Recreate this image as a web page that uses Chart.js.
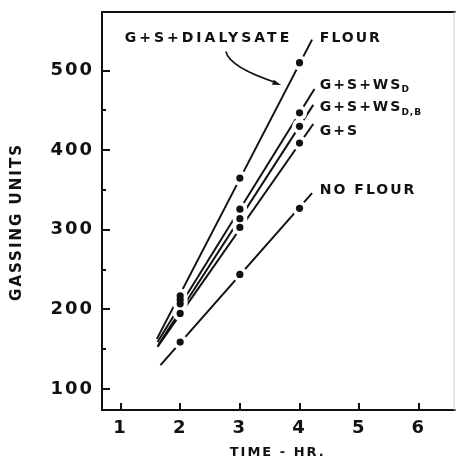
<!DOCTYPE html>
<html>
<head>
<meta charset="utf-8">
<script src="https://cdn.jsdelivr.net/npm/chart.js@4"></script>
<style>
  html, body { margin: 0; padding: 0; background: #fff; }
  canvas { display: block; }
</style>
</head>
<body>
<canvas id="gasChart" width="461" height="460"></canvas>
<script>
    const timeHr = [2, 3, 4];
    const dialysateFlour = [217, 365, 510];
    const wsD = [212, 326, 447];
    const wsDB = [207, 314, 430];
    const gPlusS = [195, 303, 409];
    const noFlour = [159, 244, 327];

    // fitted straight lines, start and end
    const fitStartX = [1.61, 1.62, 1.63, 1.62, 1.67];
    const fitStartY = [163, 159, 155, 153, 130];
    const fitEndX = [4.21, 4.25, 4.23, 4.23, 4.21];
    const fitEndY = [539, 477, 457, 433, 346];

    const xTicks = [1, 2, 3, 4, 5, 6];
    const yTicks = [100, 200, 300, 400, 500];
    const yMinorTicks = [150, 250, 350, 450];

    const labelTexts = ['G+S+DIALYSATE', 'FLOUR', 'G+S+WS', 'G+S+WS', 'G+S', 'NO FLOUR'];
    const labelSubs = ['', '', 'D', 'D,B', '', ''];
    const labelX = [1.07, 4.34, 4.34, 4.34, 4.34, 4.34];
    const labelY = [540, 540, 482, 454, 423.5, 349];

    const INK = '#111';
    const FONT = '"DejaVu Sans", sans-serif';
    const allSeries = [dialysateFlour, wsD, wsDB, gPlusS, noFlour];

    function buildDatasets() {
      const sets = [];
      allSeries.forEach((s, i) => {
        sets.push({
          data: [{ x: fitStartX[i], y: fitStartY[i] }, { x: fitEndX[i], y: fitEndY[i] }],
          showLine: true,
          borderColor: INK,
          borderWidth: 2,
          pointRadius: 0,
          order: 2
        });
        const pts = timeHr.map((x, j) => ({ x: x, y: s[j] }));
        sets.push({
          data: pts,
          pointRadius: 7.5,
          pointBackgroundColor: '#fff',
          pointBorderWidth: 0,
          order: 1
        });
        sets.push({
          data: pts,
          pointRadius: 3.6,
          pointBackgroundColor: INK,
          pointBorderWidth: 0,
          order: 0
        });
      });
      return sets;
    }

    const spacing = {
      id: 'spacing',
      beforeUpdate(chart) { chart.ctx.letterSpacing = '2px'; },
      beforeDraw(chart) { chart.ctx.letterSpacing = '2px'; }
    };

    const decorations = {
      id: 'decorations',
      afterDraw(chart) {
        const ctx = chart.ctx;
        const a = chart.chartArea;
        const xs = chart.scales.x;
        const ys = chart.scales.y;
        ctx.save();
        ctx.strokeStyle = INK;
        ctx.lineWidth = 2;
        ctx.beginPath();
        ctx.moveTo(a.right + 2, a.top);
        ctx.lineTo(a.left, a.top);
        ctx.lineTo(a.left, a.bottom);
        ctx.lineTo(a.right + 2, a.bottom);
        ctx.stroke();
        ctx.strokeStyle = '#ccc';
        ctx.lineWidth = 1;
        ctx.beginPath();
        ctx.moveTo(a.right + 0.5, a.top);
        ctx.lineTo(a.right + 0.5, a.bottom);
        ctx.stroke();

        // inward tick marks
        ctx.strokeStyle = INK;
        ctx.lineWidth = 2;
        ctx.beginPath();
        yTicks.forEach(v => {
          const py = Math.round(ys.getPixelForValue(v));
          ctx.moveTo(a.left, py);
          ctx.lineTo(a.left + 8, py);
        });
        yMinorTicks.forEach(v => {
          const py = Math.round(ys.getPixelForValue(v));
          ctx.moveTo(a.left, py);
          ctx.lineTo(a.left + 4, py);
        });
        xTicks.forEach(v => {
          const px = Math.round(xs.getPixelForValue(v));
          ctx.moveTo(px, a.bottom);
          ctx.lineTo(px, a.bottom - 7);
        });
        ctx.stroke();

        // y axis title, sits a little below the middle of the frame
        ctx.fillStyle = INK;
        ctx.save();
        ctx.translate(17, (a.top + a.bottom) / 2 + 11);
        ctx.rotate(-Math.PI / 2);
        ctx.font = 'bold 15px ' + FONT;
        ctx.letterSpacing = '2px';
        ctx.textAlign = 'center';
        ctx.textBaseline = 'middle';
        ctx.fillText('GASSING UNITS', 0, 0);
        ctx.restore();

        // series labels
        ctx.textBaseline = 'middle';
        ctx.textAlign = 'left';
        labelTexts.forEach((t, i) => {
          const px = xs.getPixelForValue(labelX[i]);
          const py = ys.getPixelForValue(labelY[i]);
          ctx.font = 'bold 14px ' + FONT;
          ctx.letterSpacing = i === 0 ? '3px' : '2px';
          ctx.fillText(t, px, py);
          if (labelSubs[i]) {
            const w = ctx.measureText(t).width;
            ctx.font = 'bold 9px ' + FONT;
            ctx.letterSpacing = '1px';
            ctx.fillText(labelSubs[i], px + w - 1, py + 5);
          }
        });

        // curved arrow to the dialysate line
        const p0 = { x: xs.getPixelForValue(2.765), y: ys.getPixelForValue(524) };
        const c = { x: xs.getPixelForValue(2.83), y: ys.getPixelForValue(504) };
        const p1 = { x: xs.getPixelForValue(3.69), y: ys.getPixelForValue(482) };
        ctx.lineWidth = 1.6;
        ctx.beginPath();
        ctx.moveTo(p0.x, p0.y);
        ctx.quadraticCurveTo(c.x, c.y, p1.x - 4, p1.y - 2);
        ctx.stroke();
        const ang = Math.atan2(p1.y - c.y, p1.x - c.x);
        ctx.beginPath();
        ctx.moveTo(p1.x, p1.y);
        ctx.lineTo(p1.x - 9 * Math.cos(ang - 0.3), p1.y - 9 * Math.sin(ang - 0.3));
        ctx.lineTo(p1.x - 9 * Math.cos(ang + 0.3), p1.y - 9 * Math.sin(ang + 0.3));
        ctx.closePath();
        ctx.fill();
        ctx.restore();
      }
    };

    Chart.defaults.font.family = FONT;
    Chart.defaults.color = INK;

    new Chart(document.getElementById('gasChart'), {
      type: 'scatter',
      data: { datasets: buildDatasets() },
      options: {
        responsive: false,
        animation: false,
        events: [],
        layout: { padding: { top: 12, right: 1, left: 0, bottom: 0 } },
        plugins: { legend: { display: false }, tooltip: { enabled: false } },
        scales: {
          x: {
            type: 'linear',
            min: 0.69,
            max: 6.58,
            grid: { display: false, drawTicks: false },
            border: { display: false },
            afterBuildTicks: s => { s.ticks = xTicks.map(v => ({ value: v })); },
            afterFit: s => { s.height = 50; s.paddingLeft = 0; s.paddingRight = 0; },
            ticks: { padding: 8, font: { size: 18, weight: 'bold' }, color: INK },
            title: {
              display: true,
              text: 'TIME - HR.',
              font: { size: 13, weight: 'bold' },
              color: INK,
              padding: { top: 0, bottom: 0 }
            }
          },
          y: {
            type: 'linear',
            min: 73.6,
            max: 573.7,
            grid: { display: false, drawTicks: false },
            border: { display: false },
            afterBuildTicks: s => { s.ticks = yTicks.map(v => ({ value: v })); },
            afterFit: s => { s.width = 102; s.paddingTop = 0; s.paddingBottom = 0; },
            ticks: { padding: 8, font: { size: 18, weight: 'bold' }, color: INK },
            title: { display: false }
          }
        }
      },
      plugins: [spacing, decorations]
    });
</script>
</body>
</html>
